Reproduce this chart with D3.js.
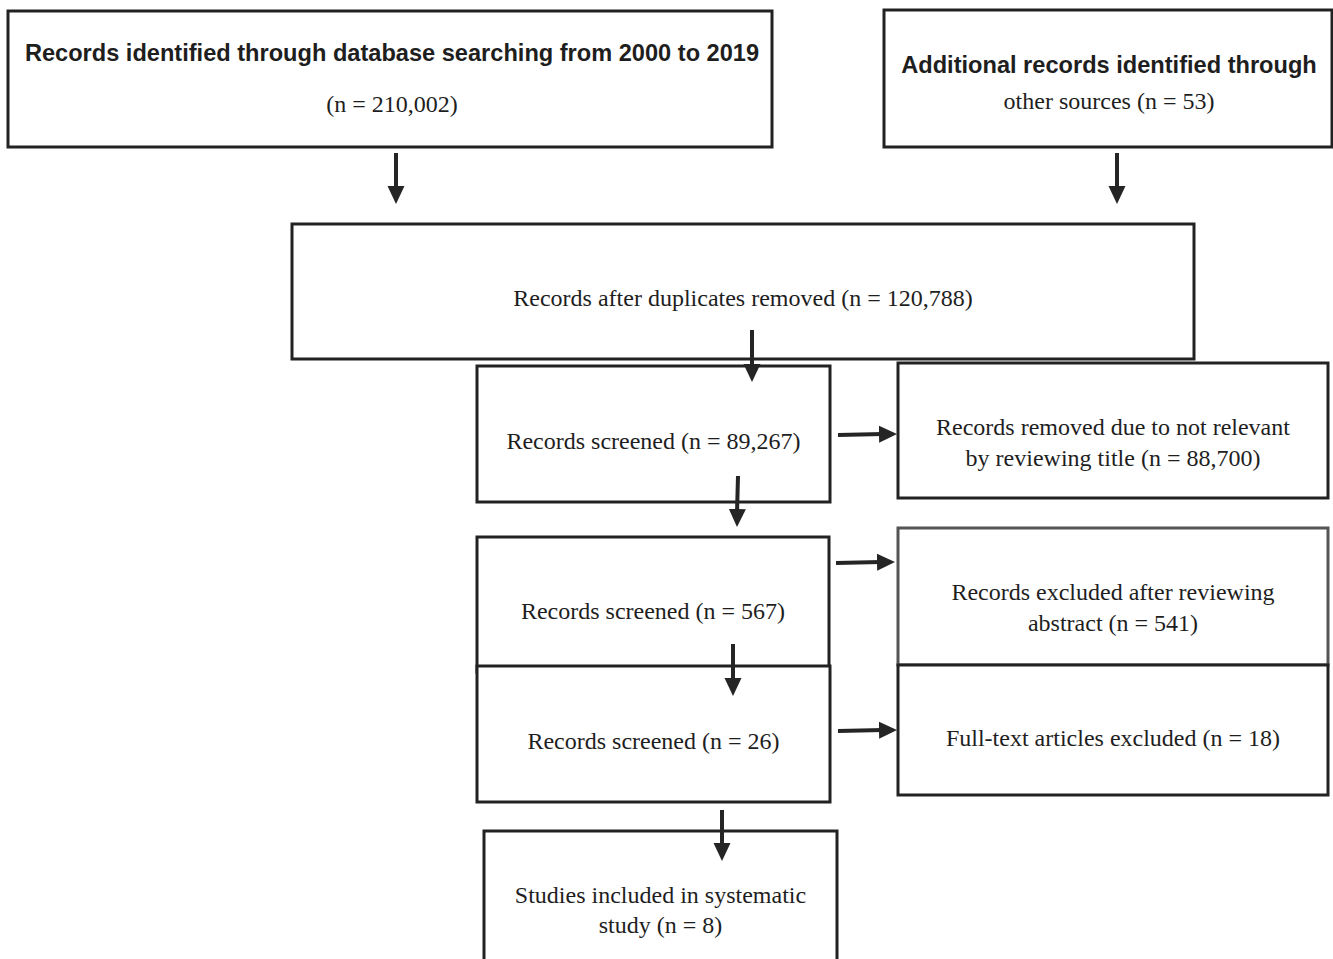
<!DOCTYPE html>
<html>
<head>
<meta charset="utf-8">
<script src="https://cdn.jsdelivr.net/npm/d3@7"></script>
<style>
  html, body { margin: 0; padding: 0; background: #fff; }
  svg { display: block; }
</style>
</head>
<body>
<div class="draw-area"></div>
<script>
// ---- data ----
const stages = ["db", "other", "dedup", "screen1", "title", "screen2", "abstract", "screen3", "fulltext", "included"];
const counts = [210002, 53, 120788, 89267, 88700, 567, 541, 26, 18, 8];
// text lines per box; {n} gets the formatted count, "b:" marks a bold sans line
const labels = [
    ["b:Records identified through database searching from 2000 to 2019", "(n = {n})"],
    ["b:Additional records identified through", "other sources (n = {n})"],
    ["Records after duplicates removed (n = {n})"],
    ["Records screened (n = {n})"],
    ["Records removed due to not relevant", "by reviewing title (n = {n})"],
    ["Records screened (n = {n})"],
    ["Records excluded after reviewing", "abstract (n = {n})"],
    ["Records screened (n = {n})"],
    ["Full-text articles excluded (n = {n})"],
    ["Studies included in systematic", "study (n = {n})"]
];
// flow links: [from, to]
const links = [[0, 2], [1, 2], [2, 3], [3, 4], [3, 5], [5, 6], [5, 7], [7, 8], [7, 9]];

// ---- layout (pixels) ----
const W = 1333, H = 959;
const boxGeom = {
    db:       { x: 8,   y: 11,  w: 764, h: 136, ty: [53, 104], cx: 392 },
    other:    { x: 884, y: 10,  w: 448, h: 137, ty: [65, 101], cx: 1109 },
    dedup:    { x: 292, y: 224, w: 902, h: 135, ty: [298] },
    screen1:  { x: 477, y: 366, w: 353, h: 136, ty: [441] },
    title:    { x: 898, y: 363, w: 430, h: 135, ty: [427, 458] },
    screen2:  { x: 477, y: 537, w: 352, h: 135, ty: [611] },
    abstract: { x: 898, y: 528, w: 430, h: 137, ty: [592, 623], stroke: "#555" },
    screen3:  { x: 477, y: 666, w: 353, h: 136, ty: [741] },
    fulltext: { x: 898, y: 665, w: 430, h: 130, ty: [738] },
    included: { x: 484, y: 831, w: 353, h: 140, ty: [895, 925] }
};
// arrow segments for each link (same order as links)
const arrowGeom = [
    { x1: 396,  y1: 153, x2: 396,  y2: 204 },
    { x1: 1117, y1: 153, x2: 1117, y2: 204 },
    { x1: 752,  y1: 330, x2: 752,  y2: 382 },
    { x1: 838,  y1: 435, x2: 897,  y2: 434 },
    { x1: 738,  y1: 476, x2: 737,  y2: 527 },
    { x1: 836,  y1: 563, x2: 895,  y2: 562 },
    { x1: 733,  y1: 644, x2: 733,  y2: 696 },
    { x1: 838,  y1: 731, x2: 897,  y2: 730 },
    { x1: 722,  y1: 810, x2: 722,  y2: 861 }
];

const fmt = d3.format(",");
const serif = "'Liberation Serif', 'Times New Roman', serif";
const sans = "'Liberation Sans', Arial, Helvetica, sans-serif";

const svg = d3.select(".draw-area")
    .append("svg")
    .attr("width", W)
    .attr("height", H)
    .attr("viewBox", [0, 0, W, H]);

// arrowhead
svg.append("defs").append("marker")
    .attr("id", "head")
    .attr("markerUnits", "userSpaceOnUse")
    .attr("viewBox", "0 -9 18 18")
    .attr("refX", 18)
    .attr("refY", 0)
    .attr("markerWidth", 18)
    .attr("markerHeight", 18)
    .attr("orient", "auto")
    .append("path")
    .attr("d", "M0,-8.5L18,0L0,8.5Z")
    .attr("fill", "#252525");

const nodes = stages.map((id, i) => ({
    id,
    count: counts[i],
    lines: labels[i],
    g: boxGeom[id]
}));

// boxes
const boxLayer = svg.append("g").attr("class", "box-layer");
boxLayer.selectAll("rect")
    .data(nodes)
    .join("rect")
    .attr("x", d => d.g.x)
    .attr("y", d => d.g.y)
    .attr("width", d => d.g.w)
    .attr("height", d => d.g.h)
    .attr("fill", "#fff")
    .attr("stroke", d => d.g.stroke || "#222")
    .attr("stroke-width", 3);

// arrows drawn after boxes so they sit on top of box edges
const linkLayer = svg.append("g").attr("class", "link-layer");
linkLayer.selectAll("line")
    .data(links.map((l, i) => ({ from: l[0], to: l[1], a: arrowGeom[i] })))
    .join("line")
    .attr("x1", d => d.a.x1)
    .attr("y1", d => d.a.y1)
    .attr("x2", d => d.a.x2 - (d.a.x2 > d.a.x1 + 5 ? 14 : 0))
    .attr("y2", d => d.a.y2 - (d.a.y2 > d.a.y1 + 5 ? 14 : 0))
    .attr("stroke", "#252525")
    .attr("stroke-width", 4)
    .each(function (d) {
        // separate invisible carrier so marker tip lands exactly at (x2,y2)
        linkLayer.append("line")
            .attr("x1", d.a.x1).attr("y1", d.a.y1)
            .attr("x2", d.a.x2).attr("y2", d.a.y2)
            .attr("stroke", "none")
            .attr("marker-end", "url(#head)");
    });

// labels
const labelLayer = svg.append("g").attr("class", "label-layer");
nodes.forEach(d => {
    const cx = d.g.cx !== undefined ? d.g.cx : d.g.x + d.g.w / 2;
    d.lines.forEach((raw, j) => {
        const bold = raw.startsWith("b:");
        const txt = (bold ? raw.slice(2) : raw).replace("{n}", fmt(d.count));
        labelLayer.append("text")
            .attr("x", cx)
            .attr("y", d.g.ty[j])
            .attr("text-anchor", "middle")
            .attr("dominant-baseline", "central")
            .attr("font-family", bold ? sans : serif)
            .attr("font-weight", bold ? "bold" : "normal")
            .attr("font-size", bold ? 23.6 : 24)
            .attr("fill", "#1e1e1e")
            .text(txt);
    });
});
</script>
</body>
</html>
